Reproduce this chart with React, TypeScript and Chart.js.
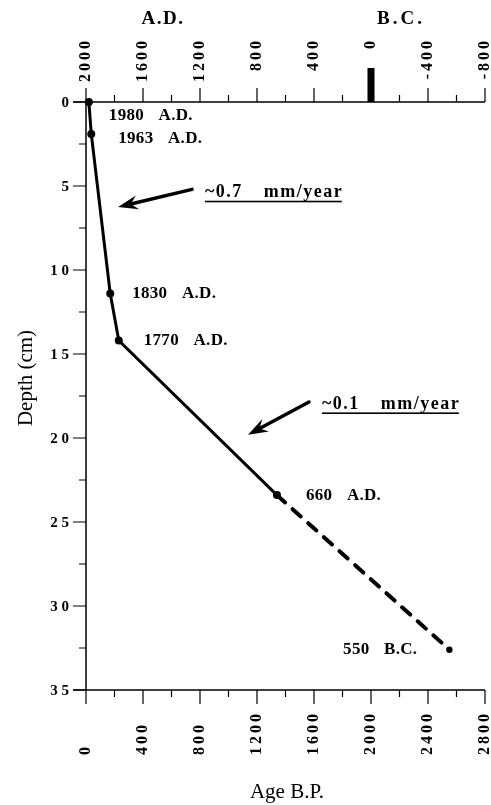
import React, { useEffect, useRef } from "react";
import { Chart, registerables } from "chart.js";

Chart.register(...registerables);

// Ages are counted back from A.D. 2000 on the lower axis.
const REF_YEAR = 2000;

// Dated horizons in the core
const sampleYears = [1980, 1963, 1830, 1770, 660, -550];
const sampleDepths = [0, 1.9, 11.4, 14.2, 23.4, 32.6];
const sampleLabels = ["1980 A.D.", "1963 A.D.", "1830 A.D.", "1770 A.D.", "660 A.D.", "550 B.C."];

// Axis ticks
const ageTicks = [0, 400, 800, 1200, 1600, 2000, 2400, 2800];
const ageMinorTicks = [200, 600, 1000, 1400, 1800, 2200, 2600];
const calendarTicks = [2000, 1600, 1200, 800, 400, 0, -400, -800];
const calendarMinorTicks = [1800, 1400, 1000, 600, 200, -200, -600];
const depthTicks = [0, 5, 10, 15, 20, 25, 30, 35];
const depthTickLabels = ["0", "5", "1 0", "1 5", "2 0", "2 5", "3 0", "3 5"];
const depthMinorTicks = [2.5, 7.5, 12.5, 17.5, 22.5, 27.5, 32.5];

// Sedimentation-rate notes
const rateLabels = ["~0.7 mm/year", "~0.1 mm/year"];

const sampleAges = sampleYears.map((yr) => REF_YEAR - yr);
const points = sampleAges.map((age, i) => ({ x: age, y: sampleDepths[i] }));
const solidPoints = points.slice(0, 5);
const dashedPoints = points.slice(4);

// Label placement beside each dated point (pixel offsets)
const labelOffsets: [number, number, CanvasTextAlign][] = [
  [20, 14, "left"],
  [27, 5, "left"],
  [22, 0, "left"],
  [25, 0, "left"],
  [29, 0, "left"],
  [-32, 0, "right"],
];

// Arrows for the rate notes, in data coordinates (age, depth)
const rateArrows = [
  { tail: [744, 5.2], tip: [225, 6.25], text: [835, 5.4] },
  { tail: [1565, 17.86], tip: [1137, 19.8], text: [1656, 18.0] },
];

const SERIF = "'Liberation Serif', 'DejaVu Serif', serif";

function drawArrow(ctx: CanvasRenderingContext2D, x1: number, y1: number, x2: number, y2: number) {
  const dx = x2 - x1;
  const dy = y2 - y1;
  const len = Math.hypot(dx, dy);
  const ux = dx / len;
  const uy = dy / len;
  const nx = -uy;
  const ny = ux;
  const L = 20;
  const W = 7;
  ctx.beginPath();
  ctx.moveTo(x1, y1);
  ctx.lineTo(x2 - ux * L * 0.6, y2 - uy * L * 0.6);
  ctx.lineWidth = 3.5;
  ctx.lineCap = "round";
  ctx.stroke();
  ctx.beginPath();
  ctx.moveTo(x2, y2);
  ctx.lineTo(x2 - ux * L + nx * W, y2 - uy * L + ny * W);
  ctx.lineTo(x2 - ux * L * 0.65, y2 - uy * L * 0.65);
  ctx.lineTo(x2 - ux * L - nx * W, y2 - uy * L - ny * W);
  ctx.closePath();
  ctx.fill();
}

const decorations = {
  id: "coreDecorations",
  afterDraw(chart: any) {
    const ctx: CanvasRenderingContext2D = chart.ctx;
    const xs = chart.scales.x;
    const xt = chart.scales.x2;
    const ys = chart.scales.y;
    const { left, right, top, bottom } = chart.chartArea;
    const c: any = ctx;

    ctx.save();
    ctx.strokeStyle = "#000";
    ctx.fillStyle = "#000";

    // axis lines
    ctx.lineWidth = 1.5;
    ctx.beginPath();
    ctx.moveTo(left, top);
    ctx.lineTo(left, bottom);
    ctx.moveTo(left - 13, top);
    ctx.lineTo(right, top);
    ctx.moveTo(left - 13, bottom);
    ctx.lineTo(right, bottom);
    ctx.stroke();

    // tick marks
    ctx.lineWidth = 1.2;
    ctx.beginPath();
    ageTicks.forEach((v) => {
      const px = xs.getPixelForValue(v);
      ctx.moveTo(px, bottom);
      ctx.lineTo(px, bottom + 14);
    });
    ageMinorTicks.forEach((v) => {
      const px = xs.getPixelForValue(v);
      ctx.moveTo(px, bottom);
      ctx.lineTo(px, bottom + 7);
    });
    calendarTicks.forEach((v) => {
      const px = xt.getPixelForValue(v);
      ctx.moveTo(px, top);
      ctx.lineTo(px, top - 14);
    });
    calendarMinorTicks.forEach((v) => {
      const px = xt.getPixelForValue(v);
      ctx.moveTo(px, top);
      ctx.lineTo(px, top - 7);
    });
    depthTicks.forEach((v) => {
      const py = ys.getPixelForValue(v);
      ctx.moveTo(left, py);
      ctx.lineTo(left - 13, py);
    });
    depthMinorTicks.forEach((v) => {
      const py = ys.getPixelForValue(v);
      ctx.moveTo(left, py);
      ctx.lineTo(left - 7, py);
    });
    ctx.stroke();

    // era boundary marker at 0 A.D.
    const zx = xt.getPixelForValue(0);
    ctx.fillRect(zx - 3.5, top - 34, 7, 34);

    // rotated tick labels
    ctx.font = `bold 16px ${SERIF}`;
    c.letterSpacing = "3px";
    ctx.textBaseline = "middle";
    ageTicks.forEach((v) => {
      const px = xs.getPixelForValue(v);
      ctx.save();
      ctx.translate(px, 755);
      ctx.rotate(-Math.PI / 2);
      ctx.textAlign = "left";
      ctx.fillText(String(v), 0, 0);
      ctx.restore();
    });
    calendarTicks.forEach((v) => {
      const px = xt.getPixelForValue(v);
      ctx.save();
      ctx.translate(px, 38);
      ctx.rotate(-Math.PI / 2);
      ctx.textAlign = "right";
      ctx.fillText(String(v), 0, 0);
      ctx.restore();
    });

    // depth tick labels
    c.letterSpacing = "0px";
    ctx.font = `bold 15px ${SERIF}`;
    ctx.textAlign = "right";
    depthTicks.forEach((v, i) => {
      ctx.fillText(depthTickLabels[i], left - 17, ys.getPixelForValue(v) + 1);
    });

    // era headings
    ctx.font = `bold 19px ${SERIF}`;
    c.letterSpacing = "1.5px";
    ctx.textAlign = "center";
    ctx.fillText("A.D.", 163, 19);
    c.letterSpacing = "3px";
    ctx.fillText("B.C.", 401, 19);

    // axis titles
    c.letterSpacing = "0px";
    ctx.font = `21px ${SERIF}`;
    ctx.textAlign = "center";
    ctx.fillText("Age B.P.", 287, 792);
    ctx.save();
    ctx.translate(26, 378);
    ctx.rotate(-Math.PI / 2);
    ctx.fillText("Depth (cm)", 0, 0);
    ctx.restore();

    // labels at dated points
    ctx.font = `bold 17px ${SERIF}`;
    c.letterSpacing = "0.3px";
    c.wordSpacing = "10px";
    points.forEach((p, i) => {
      const [dx, dy, align] = labelOffsets[i];
      ctx.textAlign = align;
      ctx.fillText(sampleLabels[i], xs.getPixelForValue(p.x) + dx, ys.getPixelForValue(p.y) + dy);
    });

    // rate notes with arrows
    ctx.font = `bold 18px ${SERIF}`;
    c.letterSpacing = "1.5px";
    c.wordSpacing = "15px";
    ctx.textAlign = "left";
    rateArrows.forEach((a, i) => {
      drawArrow(
        ctx,
        xs.getPixelForValue(a.tail[0]),
        ys.getPixelForValue(a.tail[1]),
        xs.getPixelForValue(a.tip[0]),
        ys.getPixelForValue(a.tip[1])
      );
      const tx = xs.getPixelForValue(a.text[0]);
      const ty = ys.getPixelForValue(a.text[1]);
      ctx.fillText(rateLabels[i], tx, ty);
      const w = ctx.measureText(rateLabels[i]).width;
      ctx.fillRect(tx, ty + 8, w - 1.5, 1.6);
    });

    c.letterSpacing = "0px";
    c.wordSpacing = "0px";
    ctx.restore();
  },
};

export default function App() {
  const canvasRef = useRef<HTMLCanvasElement | null>(null);

  useEffect(() => {
    const canvas = canvasRef.current;
    if (!canvas) return;
    const chart = new Chart(canvas, {
      type: "line",
      data: {
        datasets: [
          {
            data: solidPoints,
            borderColor: "#000",
            backgroundColor: "#000",
            borderWidth: 3,
            pointRadius: 4,
            pointBorderWidth: 0,
            pointBackgroundColor: "#000",
            tension: 0,
            clip: false,
          } as any,
          {
            data: dashedPoints,
            borderColor: "#000",
            backgroundColor: "#000",
            borderWidth: 4,
            borderDash: [11, 10],
            borderCapStyle: "round",
            pointRadius: [0, 3.2],
            pointBorderWidth: 0,
            pointBackgroundColor: "#000",
            tension: 0,
            clip: false,
          } as any,
        ],
      },
      options: {
        responsive: false,
        animation: false,
        layout: { padding: { right: 6, left: 0, top: 0, bottom: 0 } },
        plugins: { legend: { display: false }, tooltip: { enabled: false } },
        scales: {
          x: {
            type: "linear",
            position: "bottom",
            min: 0,
            max: 2800,
            ticks: { display: false },
            grid: { display: false },
            border: { display: false },
            afterFit: (s: any) => {
              s.height = 115;
            },
          },
          x2: {
            type: "linear",
            position: "top",
            min: -800,
            max: 2000,
            reverse: true,
            ticks: { display: false },
            grid: { display: false },
            border: { display: false },
            afterFit: (s: any) => {
              s.height = 102;
            },
          },
          y: {
            type: "linear",
            position: "left",
            min: 0,
            max: 35,
            reverse: true,
            ticks: { display: false },
            grid: { display: false },
            border: { display: false },
            afterFit: (s: any) => {
              s.width = 86;
            },
          },
        },
      } as any,
      plugins: [decorations],
    });
    return () => chart.destroy();
  }, []);

  return (
    <div style={{ position: "fixed", left: 0, top: 0, width: 491, height: 805, background: "#fff" }}>
      <canvas ref={canvasRef} width={491} height={805} style={{ display: "block" }} />
    </div>
  );
}
